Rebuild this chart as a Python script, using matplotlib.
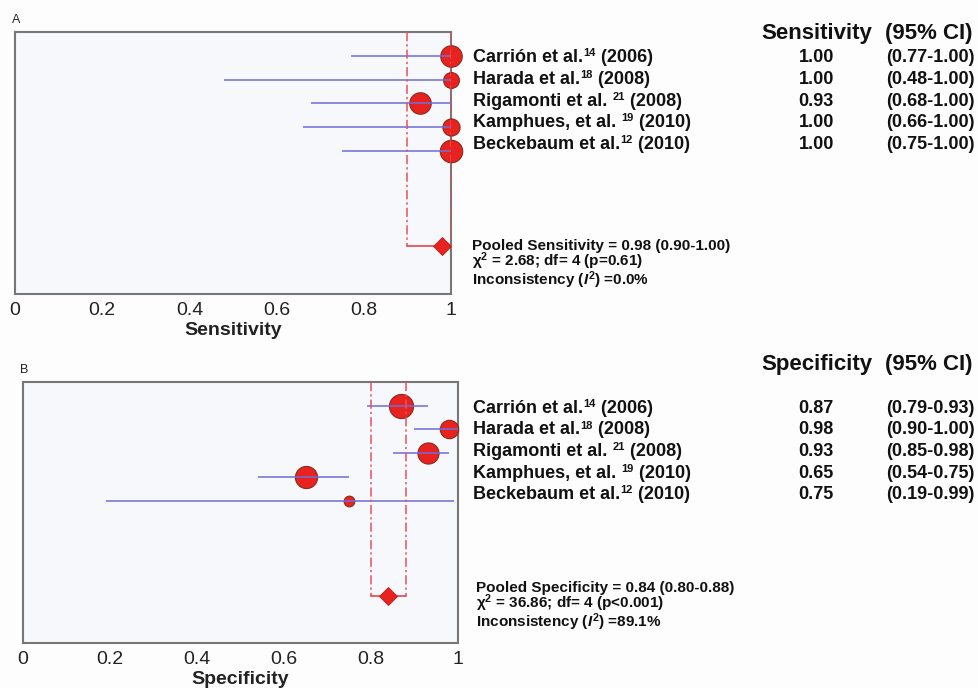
import numpy as np
import matplotlib
matplotlib.use("Agg")
from matplotlib import pyplot as plt

plt.rcParams['font.family'] = ['Liberation Sans', 'DejaVu Sans']
plt.rcParams['mathtext.fontset'] = 'custom'
plt.rcParams['mathtext.rm'] = 'Liberation Sans:bold'
plt.rcParams['mathtext.bf'] = 'Liberation Sans:bold'
plt.rcParams['mathtext.it'] = 'Liberation Sans:italic:bold'

# studies (same in both panels)
authors = ["Carrión et al.", "Harada et al.", "Rigamonti et al. ", "Kamphues, et al. ", "Beckebaum et al."]
refs = ["14", "18", "21", "19", "12"]
years = ["2006", "2008", "2008", "2010", "2010"]

# panel A - sensitivity
sens = [1.00, 1.00, 0.93, 1.00, 1.00]
sens_lo = [0.77, 0.48, 0.68, 0.66, 0.75]
sens_hi = [1.00, 1.00, 1.00, 1.00, 1.00]
sens_w = [23.4, 12.7, 23.4, 14.9, 25.6]
sens_pool = (0.98, 0.90, 1.00)
sens_stats = ["Pooled Sensitivity = 0.98 (0.90-1.00)",
              r"$\mathrm{χ}^2$ = 2.68; df= 4 (p=0.61)",
              r"Inconsistency ($\mathit{I}^2$) =0.0%"]

# panel B - specificity
spec = [0.87, 0.98, 0.93, 0.65, 0.75]
spec_lo = [0.79, 0.90, 0.85, 0.54, 0.19]
spec_hi = [0.93, 1.00, 0.98, 0.75, 0.99]
spec_w = [29.5, 17.2, 22.6, 24.8, 5.8]
spec_pool = (0.84, 0.80, 0.88)
spec_stats = ["Pooled Specificity = 0.84 (0.80-0.88)",
              r"$\mathrm{χ}^2$ = 36.86; df= 4 (p<0.001)",
              r"Inconsistency ($\mathit{I}^2$) =89.1%"]

xticks = [0, 0.2, 0.4, 0.6, 0.8, 1.0]
xticklabels = ["0", "0.2", "0.4", "0.6", "0.8", "1"]

W, H = 979, 688
fig = plt.figure(figsize=(W / 100, H / 100), dpi=100, facecolor='#fdfdfd')
renderer = fig.canvas.get_renderer()


def px(x, y):
    return x / W, 1 - y / H


def panel(box, vals, lo, hi, w, pool, stats, xlabel, letter, top, rows_y, stats_xy):
    l, t, r, b = box
    ax = fig.add_axes([l / W, 1 - b / H, (r - l) / W, (b - t) / H])
    ax.set_facecolor('#f6f8fc')
    rows = np.arange(1, len(vals) + 1)
    ax.set_xlim(0, 1)
    ax.set_ylim(11, 0)

    ax.hlines(rows, lo, hi, color='#6e6ed8', lw=1.3, alpha=0.85, zorder=4)
    for yy, v, ww in zip(rows, vals, w):
        ax.plot(v, yy, 'o', ms=3.2 * np.sqrt(ww), mfc='#e8231f', mec='#8a2a1c',
                mew=0.8, zorder=3, clip_on=False)

    pv, pl, ph = pool
    ax.plot([pl, pl], [0, 9], color='#e8505a', lw=1.1, ls=(0, (6, 2, 1.5, 2)), zorder=5)
    ax.plot([ph, ph], [0, 9], color='#e8505a', lw=1.1, ls=(0, (6, 2, 1.5, 2)), zorder=5)
    ax.plot([pl, ph], [9, 9], color='#e23a3a', lw=1.1, zorder=5)
    ax.plot(pv, 9, 'D', ms=8.8, mfc='#e8231f', mec='#c01c18', mew=0.6, zorder=6, clip_on=False)

    ax.set_xticks(xticks)
    ax.set_xticklabels(xticklabels, fontsize=14, color='#222222')
    ax.set_yticks([])
    ax.tick_params(axis='x', length=0, pad=6)
    for s in ax.spines.values():
        s.set_color('#777777')
        s.set_linewidth(1.5)
    ax.set_xlabel(xlabel, fontsize=14, fontweight='bold', color='#222222', labelpad=2)

    fig.text(*px(l - 3, t - 12), letter, fontsize=9, color='#222222', va='center')

    # table on the right
    fig.text(*px(761, top), xlabel, fontsize=16, fontweight='bold', va='center', color='#111111')
    fig.text(*px(885, top), "(95% CI)", fontsize=16, fontweight='bold', va='center', color='#111111')
    y0, dy = rows_y
    for i in range(len(vals)):
        yb = y0 + dy * i + 5  # baseline
        t1 = fig.text(*px(473, yb), authors[i], fontsize=13, fontweight='bold',
                      va='baseline', color='#111111')
        x1 = t1.get_window_extent(renderer).x1
        t2 = fig.text(*px(x1 + 0.5, yb - 6), refs[i], fontsize=8, fontweight='bold',
                      va='baseline', color='#111111')
        x2 = t2.get_window_extent(renderer).x1
        fig.text(*px(x2, yb), " (" + years[i] + ")", fontsize=13, fontweight='bold',
                 va='baseline', color='#111111')
        fig.text(*px(834, yb), f"{vals[i]:.2f}", fontsize=13, fontweight='bold',
                 va='baseline', ha='right', color='#111111')
        fig.text(*px(886, yb), f"({lo[i]:.2f}-{hi[i]:.2f})", fontsize=13, fontweight='bold',
                 va='baseline', color='#111111')

    # pooled statistics
    fig.text(*px(*stats_xy), "\n".join(stats), fontsize=11, fontweight='bold',
             va='top', linespacing=0.82, color='#111111')
    return ax


panel((15, 32, 451, 294), sens, sens_lo, sens_hi, sens_w, sens_pool, sens_stats,
      "Sensitivity", "A", 33, (57, 21.8), (472, 239))
panel((23, 382, 458, 643), spec, spec_lo, spec_hi, spec_w, spec_pool, spec_stats,
      "Specificity", "B", 364, (408, 21.5), (476, 581))

fig.savefig("out.png", dpi=100, facecolor=fig.get_facecolor())
